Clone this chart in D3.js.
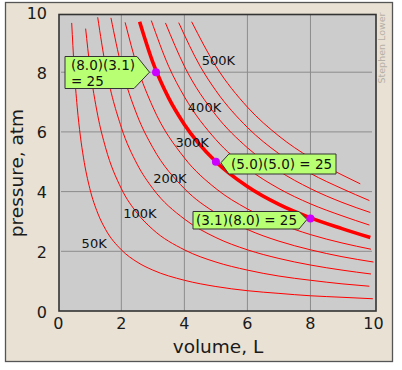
<!DOCTYPE html>
<html>
<head>
<meta charset="utf-8">
<script src="https://cdn.jsdelivr.net/npm/d3@7"></script>
<style>
  body { margin: 0; background: #fff; }
  svg { display: block; font-family: "DejaVu Sans", Verdana, sans-serif; }
</style>
</head>
<body>
<svg width="402" height="370"></svg>
<script>
// tick values
const volumeTicks = [0, 2, 4, 6, 8, 10];
const pressureTicks = [0, 2, 4, 6, 8, 10];
const gridValues = [2, 4, 6, 8];

// isotherms, [volume L, pressure atm]
const iso50 = [[0.425, 9.65], [0.5, 8.2], [0.6, 6.83], [0.7, 5.86], [0.8, 5.13], [1, 4.1], [1.25, 3.28], [1.5, 2.73], [2, 2.05], [2.5, 1.64], [3, 1.37], [4, 1.03], [5, 0.82], [6, 0.68], [7, 0.59], [8, 0.51], [9, 0.46], [9.98, 0.41]];
const iso100 = [[0.867, 9.46], [1, 8.2], [1.25, 6.56], [1.5, 5.47], [2, 4.1], [2.5, 3.28], [3, 2.73], [4, 2.05], [5, 1.64], [6, 1.37], [7, 1.17], [8, 1.03], [9, 0.91], [9.87, 0.83]];
const iso150 = [[1.25, 9.84], [1.5, 8.2], [2, 6.15], [2.5, 4.92], [3, 4.1], [4, 3.08], [5, 2.46], [6, 2.05], [7, 1.76], [8, 1.54], [9, 1.37], [9.92, 1.24]];
const iso200 = [[1.67, 9.82], [2, 8.2], [2.5, 6.56], [3, 5.47], [4, 4.1], [5, 3.28], [6, 2.73], [7, 2.34], [8, 2.05], [9, 1.82], [10, 1.64]];
const iso250 = [[2.12, 9.67], [2.5, 8.2], [3, 6.83], [4, 5.13], [5, 4.1], [6, 3.42], [7, 2.93], [8, 2.56], [9, 2.28], [9.92, 2.07]];
const iso300 = [[2.58, 9.69], [3, 8.33], [3.5, 7.14], [4, 6.25], [5, 5.0], [6, 4.17], [7, 3.57], [8, 3.12], [9, 2.76], [9.9, 2.46]];
const iso350 = [[2.95, 9.73], [3.5, 8.2], [4, 7.18], [5, 5.74], [6, 4.78], [7, 4.1], [8, 3.59], [9, 3.19], [9.87, 2.88]];
const iso400 = [[3.4, 9.65], [4, 8.2], [5, 6.56], [6, 5.47], [7, 4.69], [8, 4.1], [9, 3.64], [9.9, 3.3]];
const iso450 = [[3.82, 9.66], [4.5, 8.2], [5, 7.38], [6, 6.15], [7, 5.27], [8, 4.61], [9, 4.1], [9.87, 3.7]];
const iso500 = [[4.23, 9.69], [5, 8.2], [6, 6.83], [7, 5.86], [8, 5.13], [9, 4.56], [9.58, 4.26]];
const isotherms = [iso50, iso100, iso150, iso200, iso250, iso300, iso350, iso400, iso450, iso500];

const tempLabels = ["50K", "100K", "200K", "300K", "400K", "500K"];

// marked points on the 300K curve (PV = 25)
const markedPoints = [[3.1, 8.0], [5.0, 5.0], [8.0, 3.1]];
const calloutText = [["(8.0)(3.1)", "= 25"], ["(5.0)(5.0) = 25"], ["(3.1)(8.0) = 25"]];

const svg = d3.select("svg");

const x = d3.scaleLinear().domain([0, 10]).range([58.3, 373.5]);
const y = d3.scaleLinear().domain([0, 10]).range([311, 12.5]);

// outer frame
svg.append("rect")
  .attr("x", 5.5).attr("y", 2.5)
  .attr("width", 387).attr("height", 359)
  .attr("fill", "#e9e1d3")
  .attr("stroke", "#555")
  .attr("stroke-width", 1.3);

// plot background
svg.append("rect")
  .attr("x", 59).attr("y", 14.5)
  .attr("width", 317).attr("height", 296.5)
  .attr("fill", "#cccccc");

// grid
svg.append("g").selectAll("line")
  .data(gridValues).enter().append("line")
  .attr("x1", d => x(d)).attr("x2", d => x(d))
  .attr("y1", 14.5).attr("y2", 311)
  .attr("stroke", "#8c8c8c").attr("stroke-width", 1);

svg.append("g").selectAll("line")
  .data(gridValues).enter().append("line")
  .attr("x1", 61).attr("x2", 372)
  .attr("y1", d => y(d)).attr("y2", d => y(d))
  .attr("stroke", "#8c8c8c").attr("stroke-width", 1);

// isotherm curves
const line = d3.line()
  .x(d => x(d[0]))
  .y(d => y(d[1]))
  .curve(d3.curveMonotoneX);

svg.append("g").selectAll("path")
  .data(isotherms).enter().append("path")
  .attr("d", line)
  .attr("fill", "none")
  .attr("stroke", "#ff0000")
  .attr("stroke-width", (d, i) => i === 5 ? 3.6 : 1);

// plot border
svg.append("rect")
  .attr("x", 59).attr("y", 14.5)
  .attr("width", 317).attr("height", 296.5)
  .attr("fill", "none")
  .attr("stroke", "#333")
  .attr("stroke-width", 1.6);

// temperature labels (placed in data units)
const labelSpots = [[0.74, 2.1], [2.06, 3.13], [3.01, 4.29], [3.72, 5.5], [4.11, 6.68], [4.55, 8.24]];
svg.append("g").selectAll("text")
  .data(tempLabels).enter().append("text")
  .attr("x", (d, i) => x(labelSpots[i][0]))
  .attr("y", (d, i) => y(labelSpots[i][1]))
  .attr("font-size", 13)
  .attr("fill", "#111")
  .text(d => d);

// tick labels
svg.append("g").selectAll("text")
  .data(volumeTicks).enter().append("text")
  .attr("x", d => x(d))
  .attr("y", 329)
  .attr("text-anchor", "middle")
  .attr("font-size", 16)
  .attr("fill", "#1a1a1a")
  .text(d => d);

svg.append("g").selectAll("text")
  .data(pressureTicks).enter().append("text")
  .attr("x", 47)
  .attr("y", d => y(d) + 1)
  .attr("dominant-baseline", "central")
  .attr("text-anchor", "end")
  .attr("font-size", 16)
  .attr("fill", "#1a1a1a")
  .text(d => d);

// axis titles
svg.append("text")
  .attr("x", 218).attr("y", 353)
  .attr("text-anchor", "middle")
  .attr("font-size", 18.5)
  .attr("fill", "#1a1a1a")
  .text("volume, L");

svg.append("text")
  .attr("transform", "translate(23,173) rotate(-90)")
  .attr("text-anchor", "middle")
  .attr("font-size", 18.5)
  .attr("fill", "#1a1a1a")
  .text("pressure, atm");

// watermark
svg.append("text")
  .attr("transform", "translate(385,48) rotate(-90)")
  .attr("text-anchor", "middle")
  .attr("font-size", 9.5)
  .attr("fill", "#b5b0a8")
  .text("Stephen Lower");

// callouts
const callFill = "#b9ff73";
function callout(pts, lines, tx, baselines, anchor) {
  svg.append("path")
    .attr("d", d3.line()(pts) + "Z")
    .attr("fill", callFill)
    .attr("stroke", "#333")
    .attr("stroke-width", 1);
  lines.forEach((t, i) => {
    svg.append("text")
      .attr("x", tx).attr("y", baselines[i])
      .attr("text-anchor", anchor)
      .attr("font-size", 13.5)
      .attr("fill", "#111")
      .text(t);
  });
}

const p1 = [x(markedPoints[0][0]), y(markedPoints[0][1])];
callout([[65, 56.5], [137, 56.5], [p1[0] - 6.5, p1[1]], [134, 88.5], [65, 88.5]],
  calloutText[0], 71, [69.5, 85.5], "start");

const p2 = [x(markedPoints[1][0]), y(markedPoints[1][1])];
callout([[p2[0] + 5, p2[1] + 1], [p2[0] + 13, 154], [336, 154], [336, 174], [p2[0] + 13, 174]],
  calloutText[1], 231, [168.5], "start");

const p3 = [x(markedPoints[2][0]), y(markedPoints[2][1])];
callout([[193, 211.5], [299, 211.5], [p3[0] - 3.5, p3[1] + 1], [299, 229], [193, 229]],
  calloutText[2], 297, [225], "end");

// marked points
svg.append("g").selectAll("circle")
  .data(markedPoints).enter().append("circle")
  .attr("cx", d => x(d[0]))
  .attr("cy", d => y(d[1]))
  .attr("r", 4)
  .attr("fill", "#cc00ff");
</script>
</body>
</html>
